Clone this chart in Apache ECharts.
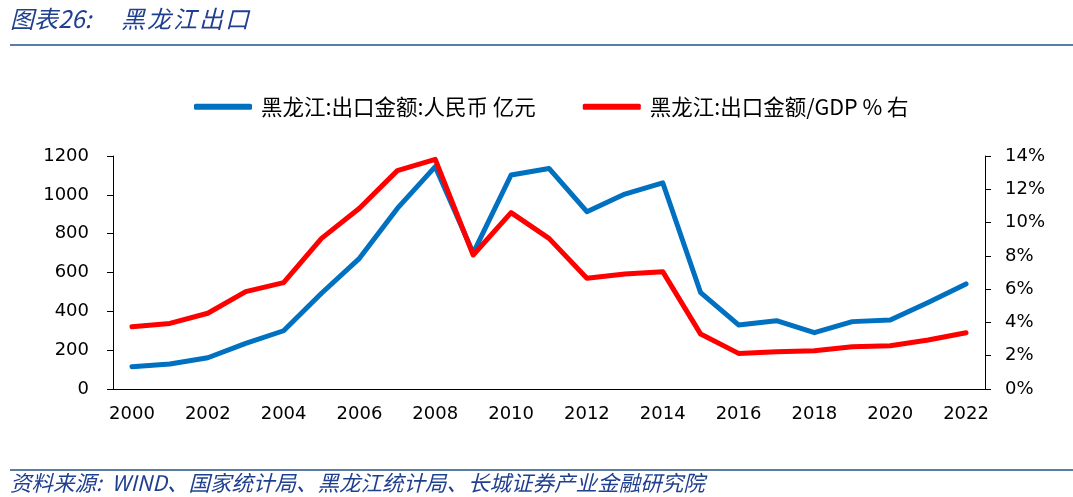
<!DOCTYPE html>
<html><head><meta charset="utf-8">
<script src="https://cdn.jsdelivr.net/npm/echarts@6/dist/echarts.min.js"></script>
<style>html,body{margin:0;padding:0;background:#fff}#c{width:1073px;height:497px}</style>
</head><body><div id="c"></div>
<script>
var years = ['2000','2001','2002','2003','2004','2005','2006','2007','2008','2009','2010','2011','2012','2013','2014','2015','2016','2017','2018','2019','2020','2021','2022'];
var exportValue = [115,129,161,235,300,493,673,930,1145,700,1102,1136,913,1004,1062,496,330,352,290,347,355,446,541];
var exportGdpRatio = [3.74,3.94,4.55,5.85,6.39,9.05,10.86,13.12,13.80,8.05,10.60,9.05,6.65,6.91,7.05,3.30,2.14,2.24,2.30,2.54,2.60,2.94,3.38];
var nameBlue = '黑龙江:出口金额:人民币 亿元';
var nameRed = '黑龙江:出口金额/GDP % 右';
var titleHead = '图表26:';
var titleChars = ['黑','龙','江','出','口'];
var sourceText = '资料来源:  WIND、国家统计局、黑龙江统计局、长城证券产业金融研究院';
var chart = echarts.init(document.getElementById('c'));
var axisFont = {fontFamily:'DejaVu Sans', fontSize:18, color:'#000'};
var titleStyle = {fontFamily:'Noto Sans CJK SC', fontSize:24, fontStyle:'italic', fill:'#1F3F8F'};
var graphics = [
  {type:'rect', shape:{x:10,y:44,width:1063,height:2}, style:{fill:'#5A7DA6'}},
  {type:'rect', shape:{x:10,y:469,width:1063,height:2}, style:{fill:'#5A7DA6'}},
  {type:'text', left:10, top:7, style:Object.assign({text:titleHead}, titleStyle)},
  {type:'text', left:10, top:472, style:{text:sourceText, fontFamily:'Noto Sans CJK SC', fontSize:21.5, fontStyle:'italic', fill:'#1F3F8F'}}
];
titleChars.forEach(function(ch, i){
  graphics.push({type:'text', left:121 + i*26, top:7, style:Object.assign({text:ch}, titleStyle)});
});
chart.setOption({
  animation:false,
  graphic:graphics,
  legend:{top:91, left:189, itemGap:47, itemWidth:58, itemHeight:6, icon:'roundRect',
    textStyle:{fontFamily:'Noto Sans CJK SC', fontSize:21.5, color:'#000', padding:[0,0,0,4]},
    data:[{name:nameBlue},{name:nameRed}]},
  grid:{left:113, right:88, top:156, bottom:108, containLabel:false},
  xAxis:{type:'category', data:years, boundaryGap:true,
    axisLine:{lineStyle:{color:'#000', width:1}},
    axisTick:{interval:1, length:6, lineStyle:{color:'#000'}},
    axisLabel:Object.assign({interval:1, margin:16}, axisFont)},
  yAxis:[
    {type:'value', min:0, max:1200, interval:200, position:'left',
      axisLine:{show:true, lineStyle:{color:'#000'}}, axisTick:{show:true, length:6, lineStyle:{color:'#000'}},
      splitLine:{show:false},
      axisLabel:Object.assign({margin:24, formatter:function(v){return String(v);}}, axisFont)},
    {type:'value', min:0, max:14, interval:2, position:'right',
      axisLine:{show:true, lineStyle:{color:'#000'}}, axisTick:{show:true, length:6, lineStyle:{color:'#000'}},
      splitLine:{show:false},
      axisLabel:Object.assign({margin:20, formatter:'{value}%'}, axisFont)}
  ],
  series:[
    {name:nameBlue, type:'line', yAxisIndex:0, data:exportValue, symbol:'none', lineStyle:{color:'#0070C0', width:5, cap:'round', join:'round'}, itemStyle:{color:'#0070C0'}},
    {name:nameRed, type:'line', yAxisIndex:1, data:exportGdpRatio, symbol:'none', lineStyle:{color:'#FF0000', width:5, cap:'round', join:'round'}, itemStyle:{color:'#FF0000'}}
  ]
});
</script></body></html>
